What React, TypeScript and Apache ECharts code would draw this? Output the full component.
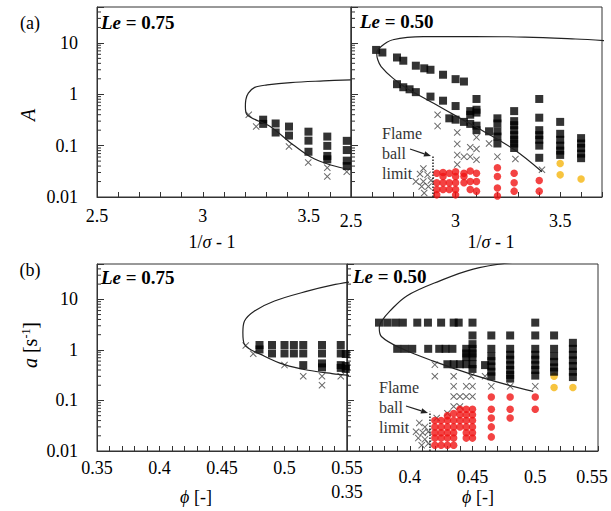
import React, { useEffect, useRef } from 'react';
import * as echarts from 'echarts';

const FONT = "'Liberation Serif', 'Times New Roman', serif";
const INK = '#222';
const RED = '#f01414';
const GOLD = '#f5b50f';

// ---- axis ticks ----
const yTickLabels = ['0.01', '0.1', '1', '10'];
const yMinorTicks = [
  0.02, 0.03, 0.04, 0.05, 0.06, 0.07, 0.08, 0.09,
  0.2, 0.3, 0.4, 0.5, 0.6, 0.7, 0.8, 0.9,
  2, 3, 4, 5, 6, 7, 8, 9,
  20, 30, 40,
];

// ---- (a) Le = 0.75 : A vs 1/sigma - 1 ----
const curveA75 = [
  [3.699, 1.91], [3.571, 1.82], [3.415, 1.69], [3.304, 1.52], [3.245, 1.36],
  [3.215, 1.05], [3.203, 0.78], [3.201, 0.57], [3.209, 0.4], [3.32, 0.234], [3.415, 0.113],
  [3.51, 0.06], [3.604, 0.042], [3.699, 0.034],
];
const burnA75 = [
  [3.285, 0.32], [3.285, 0.265], [3.344, 0.27], [3.344, 0.18],
  [3.407, 0.235], [3.407, 0.157], [3.499, 0.187], [3.499, 0.125], [3.499, 0.076],
  [3.588, 0.15], [3.588, 0.099], [3.588, 0.063], [3.588, 0.054],
  [3.68, 0.124], [3.68, 0.082], [3.68, 0.051], [3.68, 0.04],
];
const extA75 = [
  [3.217, 0.4], [3.252, 0.235], [3.407, 0.096], [3.498, 0.047],
  [3.588, 0.037], [3.588, 0.025], [3.68, 0.031],
];

// ---- (a) Le = 0.50 ----
const curveA50 = [
  [3.712, 11.1], [3.574, 11.9], [3.332, 13.0], [3.089, 13.3], [2.846, 13.3],
  [2.7, 11.5], [2.644, 8.5], [2.623, 6.3], [2.628, 4.69], [2.644, 3.47],
  [2.7, 2.06], [2.766, 1.31], [2.895, 0.67], [3.008, 0.367], [3.137, 0.187],
  [3.283, 0.082], [3.413, 0.031],
];
const burnA50 = [
  [2.62, 7.3], [2.65, 6.5], [2.72, 5.2], [2.75, 4.5], [2.81, 3.6], [2.85, 3.2],
  [2.88, 3.0], [2.94, 2.4], [3.0, 1.97], [3.04, 1.77],
  [2.72, 1.57], [2.75, 1.37], [2.78, 1.25], [2.81, 1.1], [2.88, 0.9], [2.94, 0.75], [3.0, 0.59],
  [2.97, 0.34], [3.0, 0.32], [3.04, 0.29], [3.07, 0.265], [3.1, 0.245],
  [3.07, 0.47], [3.07, 0.4], [3.1, 0.81], [3.1, 0.5], [3.1, 0.44], [3.1, 0.2],
  [3.16, 0.19],
  [3.2, 0.34], [3.2, 0.27], [3.2, 0.19], [3.2, 0.15], [3.2, 0.11],
  [3.28, 0.47], [3.28, 0.3], [3.28, 0.25], [3.28, 0.2], [3.28, 0.16], [3.28, 0.13], [3.28, 0.11], [3.28, 0.09],
  [3.4, 0.81], [3.4, 0.35], [3.4, 0.2], [3.4, 0.16], [3.4, 0.13], [3.4, 0.1], [3.4, 0.058],
  [3.5, 0.29], [3.5, 0.17], [3.5, 0.13], [3.5, 0.1], [3.5, 0.08], [3.5, 0.066],
  [3.6, 0.14], [3.6, 0.11], [3.6, 0.09], [3.6, 0.07], [3.6, 0.057],
];
const extA50 = [
  [2.846, 0.036], [2.83, 0.028], [2.866, 0.027], [2.81, 0.02], [2.846, 0.02],
  [2.882, 0.021], [2.838, 0.016], [2.87, 0.016], [2.85, 0.012],
  [2.914, 0.4], [2.914, 0.24], [3.008, 0.18], [3.008, 0.108], [3.008, 0.066],
  [3.008, 0.043], [3.04, 0.061], [3.07, 0.093], [3.07, 0.061], [3.1, 0.145],
  [3.1, 0.086], [3.1, 0.053], [3.16, 0.11], [3.2, 0.061], [3.286, 0.055], [3.413, 0.034],
];
const ballA50 = [
  [2.91, 0.029], [2.91, 0.019], [2.91, 0.014], [2.91, 0.011],
  [2.94, 0.03], [2.94, 0.025], [2.94, 0.019], [2.94, 0.014],
  [2.97, 0.029], [2.97, 0.019], [2.97, 0.014],
  [3.0, 0.031], [3.0, 0.025], [3.0, 0.019], [3.0, 0.014], [3.0, 0.011],
  [3.04, 0.029], [3.04, 0.025], [3.04, 0.019],
  [3.07, 0.032], [3.07, 0.02], [3.07, 0.014],
  [3.1, 0.029], [3.1, 0.02], [3.1, 0.013],
  [3.2, 0.037], [3.2, 0.025], [3.2, 0.015], [3.2, 0.0105],
  [3.28, 0.029], [3.28, 0.019], [3.28, 0.013],
  [3.4, 0.021], [3.4, 0.013],
];
const unstableA50 = [[3.5, 0.045], [3.5, 0.027], [3.6, 0.0224]];
const limitA50 = [[2.892, 0.01], [2.892, 0.066]];

// ---- (b) Le = 0.75 : a vs phi ----
const curveS75 = [
  [0.553, 22.2], [0.538, 19.1], [0.519, 14.7], [0.492, 9.29], [0.476, 5.88],
  [0.468, 3.72], [0.4667, 2.19], [0.468, 1.28], [0.484, 0.75], [0.5, 0.51],
  [0.519, 0.395], [0.538, 0.34], [0.553, 0.31],
];
const burnS75 = [
  [0.48, 1.25], [0.48, 1.02], [0.49, 1.25], [0.49, 0.85], [0.5, 1.25], [0.5, 0.85],
  [0.5075, 1.25], [0.5075, 0.85], [0.515, 1.25], [0.515, 0.85], [0.515, 0.5],
  [0.53, 1.25], [0.53, 0.85], [0.53, 0.54], [0.53, 0.45],
  [0.545, 1.25], [0.545, 0.85], [0.545, 0.5], [0.545, 0.44],
  [0.549, 0.83], [0.549, 0.48], [0.549, 0.42],
];
const extS75 = [
  [0.469, 1.22], [0.475, 0.84], [0.5, 0.5], [0.515, 0.3], [0.53, 0.3], [0.53, 0.2], [0.545, 0.3],
];

// ---- (b) Le = 0.50 ----
const curveS50 = [
  [0.485, 55], [0.4506, 39.7], [0.424, 23.2], [0.3976, 11.7], [0.3843, 5.9],
  [0.3776, 3.7], [0.3757, 2.75], [0.3776, 1.82], [0.3922, 1.1], [0.4188, 0.6],
  [0.4506, 0.32], [0.4773, 0.205], [0.4984, 0.151],
];
const burnS50 = [
  [0.3755, 3.46], [0.382, 3.46], [0.3885, 3.46], [0.3945, 3.46], [0.406, 3.46],
  [0.4145, 3.46], [0.425, 3.46], [0.435, 3.46], [0.439, 3.46], [0.45, 3.46], [0.5, 3.46],
  [0.45, 1.93], [0.465, 1.93], [0.48, 1.93], [0.5, 1.93], [0.515, 1.93],
  [0.39, 1.05], [0.396, 1.05], [0.402, 1.05], [0.4147, 1.05], [0.4235, 1.05],
  [0.4285, 1.05], [0.434, 1.05], [0.445, 1.05], [0.45, 1.05], [0.465, 1.05],
  [0.48, 1.05], [0.5, 1.05], [0.515, 1.05], [0.53, 1.05],
  [0.45, 1.3], [0.45, 0.85], [0.45, 0.72], [0.445, 0.85], [0.445, 0.72],
  [0.43, 0.52], [0.435, 0.52], [0.44, 0.52], [0.445, 0.52], [0.45, 0.52], [0.45, 0.42],
  [0.46, 0.5],
  [0.465, 0.75], [0.465, 0.6], [0.465, 0.47], [0.465, 0.37], [0.465, 0.3],
  [0.48, 0.8], [0.48, 0.64], [0.48, 0.5], [0.48, 0.4], [0.48, 0.32], [0.48, 0.27],
  [0.5, 0.8], [0.5, 0.64], [0.5, 0.5], [0.5, 0.4], [0.5, 0.31],
  [0.515, 0.75], [0.515, 0.58], [0.515, 0.45], [0.515, 0.37],
  [0.53, 1.38], [0.53, 0.8], [0.53, 0.62], [0.53, 0.48], [0.53, 0.37], [0.53, 0.29],
];
const extS50 = [
  [0.42, 0.51], [0.42, 0.3], [0.435, 0.3], [0.449, 0.3], [0.46, 0.3],
  [0.435, 0.19], [0.445, 0.19], [0.45, 0.19], [0.465, 0.19], [0.48, 0.19], [0.5, 0.19],
  [0.435, 0.12], [0.44, 0.12], [0.445, 0.12], [0.45, 0.12],
  [0.435, 0.076], [0.44, 0.076], [0.43, 0.056], [0.4215, 0.045],
  [0.4076, 0.036], [0.4121, 0.03], [0.405, 0.024], [0.4103, 0.023], [0.4148, 0.024],
  [0.4068, 0.018], [0.4121, 0.017], [0.4095, 0.013], [0.4148, 0.014],
];
const ballS50 = [
  [0.42, 0.04], [0.42, 0.03], [0.42, 0.023], [0.42, 0.018], [0.42, 0.013],
  [0.425, 0.04], [0.425, 0.03], [0.425, 0.023], [0.425, 0.018], [0.425, 0.013],
  [0.43, 0.05], [0.43, 0.04], [0.43, 0.03], [0.43, 0.023], [0.43, 0.018], [0.43, 0.013],
  [0.435, 0.055], [0.435, 0.04], [0.435, 0.03], [0.435, 0.023], [0.435, 0.018], [0.435, 0.013],
  [0.44, 0.067], [0.44, 0.052], [0.44, 0.04], [0.44, 0.03],
  [0.445, 0.067], [0.445, 0.052], [0.445, 0.04], [0.445, 0.03], [0.445, 0.023], [0.445, 0.018],
  [0.45, 0.067], [0.45, 0.052], [0.45, 0.04], [0.45, 0.03], [0.45, 0.023], [0.45, 0.018],
  [0.465, 0.117], [0.465, 0.067], [0.465, 0.045], [0.465, 0.03], [0.465, 0.019],
  [0.48, 0.117], [0.48, 0.067], [0.48, 0.045],
  [0.5, 0.117], [0.5, 0.067],
];
const unstableS50 = [[0.515, 0.3], [0.515, 0.18], [0.53, 0.18]];
const limitS50 = [[0.4161, 0.01], [0.4161, 0.06]];

const CROSS = 'path://M0,1L1,0L5,4L9,0L10,1L6,5L10,9L9,10L5,6L1,10L0,9L4,5Z';

const panels = [
  { grid: { left: 97, top: 7, width: 254, height: 190 }, x: [2.5, 3.7, 0.1], labelStep: 2, margin: 10, yLabels: true,
    curve: curveA75, burn: burnA75, ext: extA75, ball: [], unstable: [], limit: null },
  { grid: { left: 351, top: 7, width: 251, height: 190 }, x: [2.5, 3.7, 0.1], labelStep: 2, margin: 15, yLabels: false,
    curve: curveA50, burn: burnA50, ext: extA50, ball: ballA50, unstable: unstableA50, limit: limitA50 },
  { grid: { left: 97, top: 264, width: 250, height: 187 }, x: [0.35, 0.55, 0.01], labelStep: 20, margin: 8, yLabels: true,
    curve: curveS75, burn: burnS75, ext: extS75, ball: [], unstable: [], limit: null },
  { grid: { left: 347, top: 264, width: 251, height: 187 }, x: [0.35, 0.55, 0.01], labelStep: 20, margin: 17, yLabels: false,
    curve: curveS50, burn: burnS50, ext: extS50, ball: ballS50, unstable: unstableS50, limit: limitS50, lowFirst: true },
];

function arrow(x1: number, y1: number, x2: number, y2: number) {
  const dx = x2 - x1, dy = y2 - y1, L = Math.hypot(dx, dy);
  const ux = dx / L, uy = dy / L;
  const bx = x2 - ux * 7, by = y2 - uy * 7;
  const px = -uy * 2.8, py = ux * 2.8;
  return [
    { type: 'line', shape: { x1, y1, x2: bx, y2: by }, style: { stroke: INK, lineWidth: 1.3 } },
    { type: 'polygon', shape: { points: [[x2, y2], [bx + px, by + py], [bx - px, by - py]] }, style: { fill: INK } },
  ];
}

function txt(x: number, y: number, text: string, rich: any, extra: any = {}) {
  return {
    type: 'text', x, y, ...extra,
    style: {
      text, rich, fill: '#000', fontFamily: FONT, fontSize: 18,
      align: extra.align || 'center', verticalAlign: extra.verticalAlign || 'middle',
      textAlign: extra.align || 'center', textVerticalAlign: extra.verticalAlign || 'middle',
      ...(extra.style || {}),
    },
  };
}

function buildOption() {
  const grids: any[] = [];
  const xAxes: any[] = [];
  const yAxes: any[] = [];
  const series: any[] = [];

  panels.forEach((p: any, i) => {
    grids.push({ ...p.grid, show: true, borderColor: '#333', borderWidth: 1, backgroundColor: 'transparent', containLabel: false, outerBoundsMode: 'none' });
    xAxes.push({
      type: 'value', gridIndex: i, min: p.x[0], max: p.x[1], interval: p.x[2],
      axisLine: { show: true, onZero: false, lineStyle: { color: '#333', width: 1 } },
      axisTick: { show: true, inside: true, length: 5, lineStyle: { color: '#333', width: 1 } },
      splitLine: { show: false },
      axisLabel: {
        color: '#000', fontFamily: FONT, fontSize: 18, margin: p.margin,
        formatter: (v: number) => {
          const k = v * p.labelStep;
          if (Math.abs(k - Math.round(k)) > 1e-6) return '';
          const s = String(Math.round(k) / p.labelStep);
          if (p.lowFirst && s === '0.35') return '{low|0.35}';
          if (p.lowFirst && s === '0.55') return '{edge|0.55}';
          return s;
        },
        rich: {
          low: { padding: [15, 0, 0, 0], fontFamily: FONT, fontSize: 18, color: '#000' },
          edge: { padding: [0, 12, 0, 0], fontFamily: FONT, fontSize: 18, color: '#000' },
        },
      },
    });
    yAxes.push({
      type: 'log', logBase: 10, gridIndex: i, min: 0.01, max: 50,
      axisLine: { show: true, onZero: false, lineStyle: { color: '#333', width: 1 } },
      axisTick: { show: true, inside: true, length: 7, lineStyle: { color: '#333', width: 1 } },
      splitLine: { show: false },
      minorTick: { show: false },
      axisLabel: {
        show: p.yLabels, color: '#000', fontFamily: FONT, fontSize: 18, margin: 19,
        formatter: (v: number) => {
          const l = Math.log10(v);
          const e = Math.round(l);
          return Math.abs(l - e) < 1e-6 && e >= -2 && e <= 1 ? yTickLabels[e + 2] : '';
        },
      },
    });

    const base = { xAxisIndex: i, yAxisIndex: i, silent: true };
    series.push({
      ...base, type: 'custom', z: 1,
      data: yMinorTicks.map((v) => [p.x[0], v]),
      renderItem: (_: any, api: any) => {
        const c = api.coord([api.value(0), api.value(1)]);
        return { type: 'line', shape: { x1: c[0], y1: c[1], x2: c[0] + 4, y2: c[1] }, style: { stroke: '#333', lineWidth: 1 } };
      },
    });
    series.push({ ...base, type: 'scatter', data: p.ext, symbol: CROSS, symbolSize: 7, itemStyle: { color: '#444' }, z: 2 });
    if (p.ball.length) series.push({ ...base, type: 'scatter', data: p.ball, symbol: 'circle', symbolSize: 7.5, itemStyle: { color: RED }, z: 3 });
    if (p.unstable.length) series.push({ ...base, type: 'scatter', data: p.unstable, symbol: 'circle', symbolSize: 7.5, itemStyle: { color: GOLD }, z: 3 });
    series.push({ ...base, type: 'scatter', data: p.burn, symbol: 'rect', symbolSize: 8, itemStyle: { color: '#000' }, z: 4 });
    series.push({ ...base, type: 'line', data: p.curve, smooth: 0.35, symbol: 'none', lineStyle: { color: INK, width: 1.2 }, z: 5 });
    if (p.limit) series.push({ ...base, type: 'line', data: p.limit, symbol: 'none', lineStyle: { color: INK, width: 1.5, type: 'dotted' }, z: 5 });
  });

  const leRich = {
    i: { fontFamily: FONT, fontSize: 19, fontStyle: 'italic', fontWeight: 'bold', fill: '#000', color: '#000' },
    b: { fontFamily: FONT, fontSize: 19, fontWeight: 'bold', fill: '#000', color: '#000' },
  };
  const axRich = {
    n: { fontFamily: FONT, fontSize: 18, color: '#000' },
    i: { fontFamily: FONT, fontSize: 18, fontStyle: 'italic', color: '#000' },
  };
  const limitStyle = { style: { fontSize: 16, lineHeight: 20, fill: '#333' }, align: 'left', verticalAlign: 'top' };

  const graphic: any[] = [
    txt(30, 23, '(a)', undefined),
    txt(30, 270, '(b)', undefined),
    txt(28, 115, 'A', undefined, { rotation: Math.PI / 2, style: { fontStyle: 'italic', fontSize: 20 } }),
    txt(30, 345, '{i|a} [s{sup|-1}]', {
      i: { fontFamily: FONT, fontSize: 20, fontStyle: 'italic', color: '#000' },
      sup: { fontFamily: FONT, fontSize: 12, verticalAlign: 'top', color: '#000' },
    }, { rotation: Math.PI / 2, style: { fontSize: 20 } }),
    txt(101, 22, '{i|Le}{b| = 0.75}', leRich, { align: 'left' }),
    txt(360, 21, '{i|Le}{b| = 0.50}', leRich, { align: 'left' }),
    txt(101, 277, '{i|Le}{b| = 0.75}', leRich, { align: 'left' }),
    txt(353, 276, '{i|Le}{b| = 0.50}', leRich, { align: 'left' }),
    txt(212, 242, '{n|1/}{i|σ}{n| - 1}', axRich),
    txt(491, 242, '{n|1/}{i|σ}{n| - 1}', axRich),
    txt(196, 497, '{i|ϕ}{n| [-]}', axRich),
    txt(478, 497, '{i|ϕ}{n| [-]}', axRich),
    txt(382, 123, 'Flame\nball\nlimit', undefined, limitStyle),
    txt(379, 377, 'Flame\nball\nlimit', undefined, limitStyle),
    ...arrow(410, 149, 431, 156),
    ...arrow(406, 406, 428, 413),
  ];

  return {
    animation: false,
    backgroundColor: '#fff',
    grid: grids,
    xAxis: xAxes,
    yAxis: yAxes,
    series,
    graphic: { elements: graphic },
  };
}

export default function App() {
  const ref = useRef<HTMLDivElement>(null);
  useEffect(() => {
    const chart = echarts.init(ref.current!, null, { renderer: 'svg' });
    chart.setOption(buildOption() as any);
    return () => chart.dispose();
  }, []);
  return <div ref={ref} style={{ position: 'absolute', left: 0, top: 0, width: 611, height: 511 }} />;
}
